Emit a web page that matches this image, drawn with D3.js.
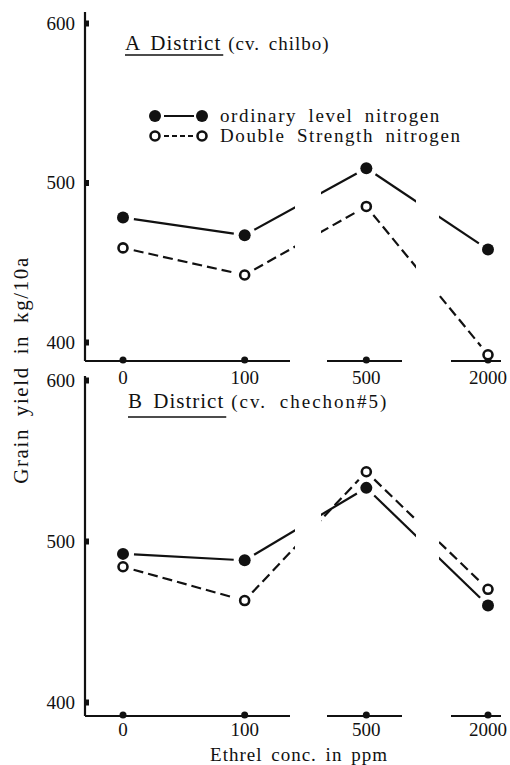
<!DOCTYPE html>
<html>
<head>
<meta charset="utf-8">
<script src="https://cdn.jsdelivr.net/npm/d3@7"></script>
<style>
  body { margin: 0; background: #fff; }
  svg { display: block; }
  svg text { font-family: "Liberation Serif", "Times New Roman", "DejaVu Serif", serif; fill: #111; }
</style>
</head>
<body>
<div class="graph"></div>
<script>
// Ethrel concentrations (ppm) on the x axis
var concs = ['0', '100', '500', '2000'];
var yTicks = [400, 500, 600];

// grain yield, kg/10a
var aOrdinary = [478, 467, 509, 458];
var aDouble = [459, 442, 485, 392];
var bOrdinary = [492, 488, 533, 460];
var bDouble = [484, 463, 543, 470];

var W = 510, H = 765;
var serif = '"Liberation Serif", "Times New Roman", serif';

var svg = d3.select('.graph')
  .append('svg')
  .attr('width', W)
  .attr('height', H);

var x = d3.scalePoint()
  .domain(concs)
  .range([123, 488]);

// broken x axis: the pieces that are drawn, and the parts where the lines are kept
var axisPieces = [[85, 290], [327, 402], [451, 501]];
var lineKeep = [[0, 295], [321, 416], [439, W]];

var panels = [
  { id: 'a', top: 12, y0: 23, y1: 342, base: 361, ordinary: aOrdinary, dbl: aDouble,
    title: 'A District', sub: '(cv. chilbo)', subLs: 1, subWs: 3,
    tx: 125, ty: 50, uy: 55, labY: 384 },
  { id: 'b', top: 376, y0: 380, y1: 702, base: 716, ordinary: bOrdinary, dbl: bDouble,
    title: 'B District', sub: '(cv. chechon#5)', subLs: 2, subWs: 6,
    tx: 128, ty: 408, uy: 417, labY: 736 }
];

var defs = svg.append('defs');

panels.forEach(function (p) {
  var y = d3.scaleLinear().domain([400, 600]).range([p.y1, p.y0]);
  var g = svg.append('g').attr('class', 'panel-' + p.id);

  // clip that leaves the axis breaks empty
  var clip = defs.append('clipPath').attr('id', 'clip-' + p.id);
  clip.selectAll('rect')
    .data(lineKeep)
    .enter()
    .append('rect')
    .attr('x', function (d) { return d[0]; })
    .attr('width', function (d) { return d[1] - d[0]; })
    .attr('y', 0)
    .attr('height', H);

  // y axis
  var yAxis = d3.axisLeft(y)
    .tickValues(yTicks)
    .tickSize(0)
    .tickPadding(10)
    .tickFormat(d3.format('d'));
  var ya = g.append('g')
    .attr('transform', 'translate(85,0)')
    .call(yAxis)
    .attr('font-family', serif);
  ya.select('.domain').remove();
  ya.selectAll('text')
    .attr('dy', '0.34em')
    .style('font-size', '19px')
    .style('font-family', serif);
  ya.selectAll('.tick')
    .append('rect')
    .attr('x', 0)
    .attr('y', -3)
    .attr('width', 4)
    .attr('height', 6)
    .attr('fill', '#111');
  g.append('line')
    .attr('x1', 85).attr('x2', 85)
    .attr('y1', p.top).attr('y2', p.base)
    .attr('stroke', '#111')
    .attr('stroke-width', 2.2);

  // x axis in pieces
  g.selectAll('line.xpiece')
    .data(axisPieces)
    .enter()
    .append('line')
    .attr('class', 'xpiece')
    .attr('x1', function (d) { return d[0]; })
    .attr('x2', function (d) { return d[1]; })
    .attr('y1', p.base).attr('y2', p.base)
    .attr('stroke', '#111')
    .attr('stroke-width', 2.2);
  g.selectAll('circle.xtick')
    .data(concs)
    .enter()
    .append('circle')
    .attr('class', 'xtick')
    .attr('cx', function (d) { return x(d); })
    .attr('cy', p.base - 1)
    .attr('r', 3.5)
    .attr('fill', '#111');
  g.selectAll('text.xlab')
    .data(concs)
    .enter()
    .append('text')
    .attr('class', 'xlab')
    .attr('x', function (d) { return x(d); })
    .attr('y', p.labY)
    .attr('text-anchor', 'middle')
    .style('font-size', '19px')
    .text(function (d) { return d; });

  // title with underlined district name
  var t = g.append('text')
    .attr('x', p.tx)
    .attr('y', p.ty)
    .style('font-size', '21px')
    .style('letter-spacing', '1px')
    .style('word-spacing', '4px')
    .text(p.title);
  var tw = t.node().getComputedTextLength();
  g.append('text')
    .attr('x', p.tx + tw + 7)
    .attr('y', p.ty)
    .style('font-size', '19px')
    .style('letter-spacing', p.subLs + 'px')
    .style('word-spacing', p.subWs + 'px')
    .text(p.sub);
  g.append('line')
    .attr('x1', p.tx).attr('x2', p.tx + tw + 2)
    .attr('y1', p.uy).attr('y2', p.uy)
    .attr('stroke', '#111')
    .attr('stroke-width', 1.6);

  // series: segments trimmed short of the markers
  var series = [
    { vals: p.ordinary, dash: null, filled: true },
    { vals: p.dbl, dash: '10,5', filled: false }
  ];
  var lines = g.append('g').attr('clip-path', 'url(#clip-' + p.id + ')');
  series.forEach(function (s) {
    var pts = s.vals.map(function (v, i) { return [x(concs[i]), y(v)]; });
    var segs = d3.pairs(pts).map(function (pr) {
      var dx = pr[1][0] - pr[0][0], dy = pr[1][1] - pr[0][1];
      var len = Math.sqrt(dx * dx + dy * dy), k = 11 / len;
      return [[pr[0][0] + dx * k, pr[0][1] + dy * k], [pr[1][0] - dx * k, pr[1][1] - dy * k]];
    });
    lines.selectAll(null)
      .data(segs)
      .enter()
      .append('path')
      .attr('d', d3.line())
      .attr('fill', 'none')
      .attr('stroke', '#111')
      .attr('stroke-width', 2.2)
      .attr('stroke-dasharray', s.dash);
    g.selectAll(null)
      .data(pts)
      .enter()
      .append('circle')
      .attr('cx', function (d) { return d[0]; })
      .attr('cy', function (d) { return d[1]; })
      .attr('r', s.filled ? 6 : 4.5)
      .attr('fill', s.filled ? '#111' : '#fff')
      .attr('stroke', '#111')
      .attr('stroke-width', s.filled ? 0 : 2.6);
  });
});

// legend
var legend = svg.append('g').attr('class', 'legend');
var legendRows = [
  { label: 'ordinary level nitrogen', filled: true, dash: null, y: 116 },
  { label: 'Double Strength nitrogen', filled: false, dash: '5,3', y: 136 }
];
legendRows.forEach(function (r) {
  legend.append('line')
    .attr('x1', 164).attr('x2', 194)
    .attr('y1', r.y).attr('y2', r.y)
    .attr('stroke', '#111')
    .attr('stroke-width', 2)
    .attr('stroke-dasharray', r.dash);
  legend.selectAll(null)
    .data([155, 202])
    .enter()
    .append('circle')
    .attr('cx', function (d) { return d; })
    .attr('cy', r.y)
    .attr('r', r.filled ? 6 : 4.5)
    .attr('fill', r.filled ? '#111' : '#fff')
    .attr('stroke', '#111')
    .attr('stroke-width', r.filled ? 0 : 2.6);
  legend.append('text')
    .attr('x', 220)
    .attr('y', r.y + 6)
    .style('font-size', '19px')
    .style('letter-spacing', '1.6px')
    .style('word-spacing', '5px')
    .text(r.label);
});

// axis titles
svg.append('text')
  .attr('transform', 'translate(28,370) rotate(-90)')
  .attr('text-anchor', 'middle')
  .style('font-size', '21px')
  .style('letter-spacing', '1.6px')
  .style('word-spacing', '5px')
  .text('Grain yield in kg/10a');

svg.append('text')
  .attr('x', 299)
  .attr('y', 761)
  .attr('text-anchor', 'middle')
  .style('font-size', '19px')
  .style('letter-spacing', '1px')
  .style('word-spacing', '3px')
  .text('Ethrel conc. in ppm');
</script>
</body>
</html>
